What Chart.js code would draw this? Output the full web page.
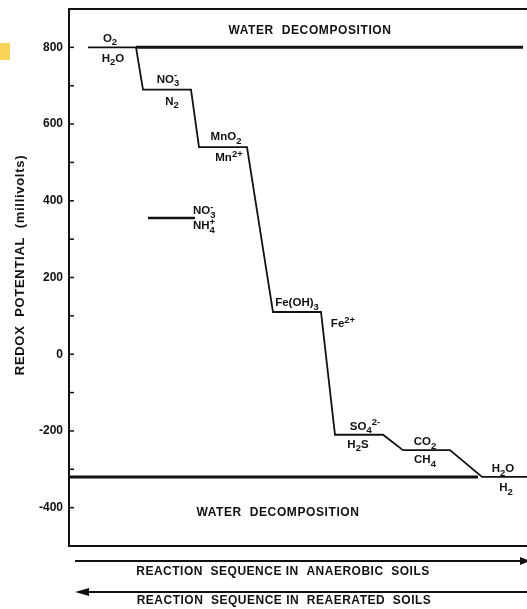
<!DOCTYPE html>
<html>
<head>
<meta charset="utf-8">
<script src="https://cdn.jsdelivr.net/npm/chart.js@4/dist/chart.umd.min.js"></script>
<style>
  html, body { margin: 0; padding: 0; background: #fff; overflow: hidden; }
  #wrap { width: 535px; height: 609px; }
</style>
</head>
<body>
<div id="wrap"><canvas id="redoxChart" width="535" height="609"></canvas></div>
<script>
// ---- data ----
// reduction sequence (x = position along the sequence, y = mV)
const seqX = [19, 67, 74, 122, 130, 178, 204, 252, 266, 314, 334, 381, 413, 470];
const seqY = [800, 800, 690, 690, 540, 540, 110, 110, -210, -210, -250, -250, -320, -320];
// water decomposition limits
const upperWaterX = [67, 454];
const upperWaterY = [800, 800];
const lowerWaterX = [0, 409];
const lowerWaterY = [-320, -320];
// nitrate / ammonium couple
const nitrateX = [79, 126];
const nitrateY = [355, 355];
// y axis tick labels
const yTicks = [-400, -200, 0, 200, 400, 600, 800];

const FONT = '"Liberation Sans", Arial, Helvetica, sans-serif';
const INK = '#111';

// couple labels: parts are [text, 'n' | 'sub' | 'sup' | 'ss' (sup over sub)]
const coupleLabels = [
    { x: 41,  v: 800,  dy: -9,  parts: [['O', 'n'], ['2', 'sub']] },
    { x: 44,  v: 800,  dy: 11,  parts: [['H', 'n'], ['2', 'sub'], ['O', 'n']] },
    { x: 99,  v: 690,  dy: -10, parts: [['NO', 'n'], [['-', '3'], 'ss']] },
    { x: 103, v: 690,  dy: 12,  parts: [['N', 'n'], ['2', 'sub']] },
    { x: 157, v: 540,  dy: -10, parts: [['MnO', 'n'], ['2', 'sub']] },
    { x: 160, v: 540,  dy: 11,  parts: [['Mn', 'n'], ['2+', 'sup']] },
    { x: 124, v: 355,  dy: -7,  parts: [['NO', 'n'], [['-', '3'], 'ss']], align: 'left' },
    { x: 124, v: 355,  dy: 8,   parts: [['NH', 'n'], [['+', '4'], 'ss']], align: 'left' },
    { x: 228, v: 110,  dy: -9,  parts: [['Fe(OH)', 'n'], ['3', 'sub']] },
    { x: 274, v: 110,  dy: 12,  parts: [['Fe', 'n'], ['2+', 'sup']] },
    { x: 296, v: -210, dy: -8,  parts: [['SO', 'n'], ['4', 'sub'], ['2-', 'sup']] },
    { x: 289, v: -210, dy: 10,  parts: [['H', 'n'], ['2', 'sub'], ['S', 'n']] },
    { x: 356, v: -250, dy: -8,  parts: [['CO', 'n'], ['2', 'sub']] },
    { x: 356, v: -250, dy: 10,  parts: [['CH', 'n'], ['4', 'sub']] },
    { x: 434, v: -320, dy: -8,  parts: [['H', 'n'], ['2', 'sub'], ['O', 'n']] },
    { x: 437, v: -320, dy: 11,  parts: [['H', 'n'], ['2', 'sub']] }
];

function toPoints(xs, ys) {
    return xs.map((x, i) => ({ x: x, y: ys[i] }));
}

function drawRich(ctx, parts, cx, cy, align) {
    const big = 'bold 11.5px ' + FONT;
    const small = 'bold 9.5px ' + FONT;
    // measure
    let w = 0;
    parts.forEach(([t, k]) => {
        ctx.font = k === 'n' ? big : small;
        w += k === 'ss' ? Math.max(ctx.measureText(t[0]).width, ctx.measureText(t[1]).width) : ctx.measureText(t).width;
    });
    let x = align === 'left' ? cx : cx - w / 2;
    ctx.textBaseline = 'middle';
    ctx.textAlign = 'left';
    parts.forEach(([t, k]) => {
        if (k === 'n') {
            ctx.font = big;
            ctx.fillText(t, x, cy);
            x += ctx.measureText(t).width;
        } else if (k === 'sub' || k === 'sup') {
            ctx.font = small;
            ctx.fillText(t, x, cy + (k === 'sub' ? 4 : -4));
            x += ctx.measureText(t).width;
        } else {
            ctx.font = small;
            ctx.fillText(t[0], x, cy - 4);
            ctx.fillText(t[1], x, cy + 4);
            x += Math.max(ctx.measureText(t[0]).width, ctx.measureText(t[1]).width);
        }
    });
}

const figurePlugin = {
    id: 'figurePlugin',
    beforeDatasetsDraw(chart) {
        const { ctx, chartArea: a, scales: { x, y } } = chart;
        ctx.save();
        ctx.strokeStyle = INK;
        // top frame
        ctx.lineWidth = 2;
        ctx.beginPath();
        ctx.moveTo(a.left, a.top);
        ctx.lineTo(a.right, a.top);
        ctx.stroke();
        // inner ticks every 100 mV
        ctx.lineWidth = 1.5;
        for (let v = -500; v <= 900; v += 100) {
            const py = y.getPixelForValue(v);
            if (py <= a.top + 2 || py >= a.bottom - 2) continue;
            ctx.beginPath();
            ctx.moveTo(a.left, py);
            ctx.lineTo(a.left + 5, py);
            ctx.stroke();
        }
        ctx.restore();
    },
    afterDatasetsDraw(chart) {
        const { ctx, chartArea: a, scales: { x, y } } = chart;
        ctx.save();
        ctx.fillStyle = INK;
        coupleLabels.forEach(l => {
            drawRich(ctx, l.parts, x.getPixelForValue(l.x), y.getPixelForValue(l.v) + l.dy, l.align);
        });

        ctx.font = 'bold 12px ' + FONT;
        ctx.letterSpacing = '0.6px';
        ctx.textAlign = 'center';
        ctx.textBaseline = 'middle';
        ctx.fillText('WATER  DECOMPOSITION', 310, 31);
        ctx.fillText('WATER  DECOMPOSITION', 278, 513);

        // reaction sequence arrows
        ctx.strokeStyle = INK;
        ctx.lineWidth = 2;
        ctx.beginPath();
        ctx.moveTo(75, 561); ctx.lineTo(522, 561);
        ctx.moveTo(80, 592); ctx.lineTo(535, 592);
        ctx.stroke();
        ctx.beginPath();
        ctx.moveTo(530, 561); ctx.lineTo(520, 557); ctx.lineTo(520, 565); ctx.closePath();
        ctx.moveTo(75, 592); ctx.lineTo(89, 588); ctx.lineTo(89, 596); ctx.closePath();
        ctx.fill();
        ctx.letterSpacing = '0.5px';
        ctx.fillText('REACTION  SEQUENCE IN  ANAEROBIC  SOILS', 283, 572);
        ctx.fillText('REACTION  SEQUENCE IN  REAERATED  SOILS', 284, 601);

        // y axis title
        ctx.save();
        ctx.translate(20, 265);
        ctx.rotate(-Math.PI / 2);
        ctx.font = 'bold 13px ' + FONT;
        ctx.letterSpacing = '0.7px';
        ctx.fillText('REDOX  POTENTIAL  (millivolts)', 0, 0);
        ctx.restore();

        // yellow scanner mark
        ctx.fillStyle = 'rgba(247, 208, 70, 0.9)';
        ctx.fillRect(0, 43, 10, 17);
        ctx.restore();
    }
};

const lineStyle = { borderColor: INK, pointRadius: 0, fill: false, tension: 0 };

new Chart(document.getElementById('redoxChart').getContext('2d'), {
    type: 'line',
    data: {
        datasets: [
            { ...lineStyle, label: 'Reduction sequence', data: toPoints(seqX, seqY), borderWidth: 1.8 },
            { ...lineStyle, label: 'Upper water limit', data: toPoints(upperWaterX, upperWaterY), borderWidth: 3 },
            { ...lineStyle, label: 'Lower water limit', data: toPoints(lowerWaterX, lowerWaterY), borderWidth: 3 },
            { ...lineStyle, label: 'NO3-/NH4+', data: toPoints(nitrateX, nitrateY), borderWidth: 2.5 }
        ]
    },
    options: {
        responsive: false,
        animation: false,
        layout: { padding: { top: 9, bottom: 63, left: 0, right: 0 } },
        plugins: { legend: { display: false }, tooltip: { enabled: false } },
        scales: {
            x: {
                type: 'linear', min: 0, max: 466,
                ticks: { display: false },
                grid: { display: false, drawTicks: false },
                border: { display: true, color: INK, width: 2 }
            },
            y: {
                type: 'linear', min: -500, max: 900,
                afterBuildTicks: (s) => { s.ticks = yTicks.map(v => ({ value: v })); },
                afterFit: (s) => { s.width = 69; s.paddingTop = 0; s.paddingBottom = 0; },
                ticks: { color: INK, padding: 6, font: { family: FONT, size: 12, weight: 'bold' } },
                grid: { display: false, drawTicks: false },
                border: { display: true, color: INK, width: 2 }
            }
        }
    },
    plugins: [figurePlugin]
});
</script>
</body>
</html>
